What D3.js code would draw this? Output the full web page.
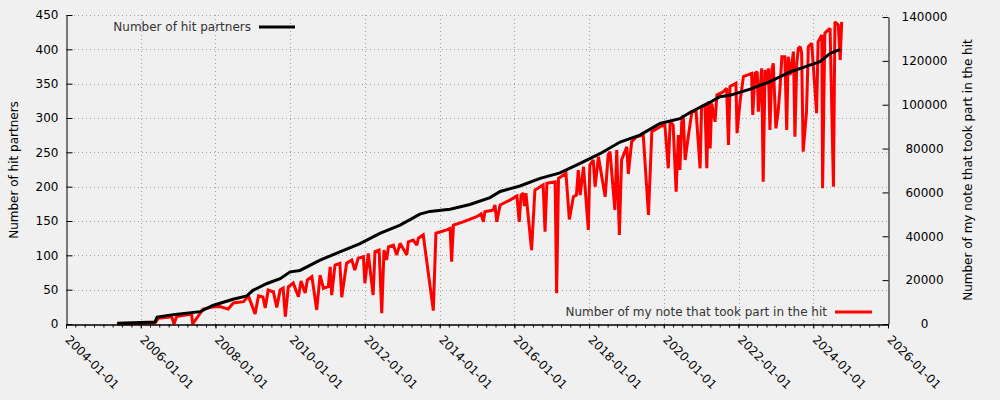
<!DOCTYPE html>
<html><head><meta charset="utf-8">
<script src="https://cdn.jsdelivr.net/npm/d3@7"></script>
<style>
html,body{margin:0;padding:0;background:#f0f0f0;}
svg{display:block;font-family:"DejaVu Sans",sans-serif;}
</style></head><body>
<svg id="chart" width="1000" height="400"></svg>
<script>
// ---- data (decimal years) ----
const partnersDates = [2005.37,2006.38,2006.44,2006.92,2007.59,2007.93,2008.47,2008.84,2009.0,2009.38,2009.73,2010.0,2010.26,2010.80,2011.33,2011.87,2012.40,2012.94,2013.47,2013.74,2014.28,2014.81,2015.35,2015.62,2016.15,2016.69,2017.22,2017.76,2018.29,2018.83,2019.36,2019.90,2020.43,2020.70,2021.24,2021.50,2021.77,2022.31,2022.84,2023.38,2023.91,2024.18,2024.45,2024.72];
const partnersValues = [1,3,10,14,18,27,36,41,49,59,66,76,78,93,105,117,132,144,160,164,167,174,184,193,201,212,220,234,248,265,275,292,299,308,323,331,333,342,353,367,377,382,394,400];

const notesDates = [2005.36,2006.38,2006.47,2006.83,2006.89,2006.96,2007.36,2007.39,2007.67,2007.94,2008.12,2008.34,2008.48,2008.75,2008.88,2009.06,2009.15,2009.27,2009.33,2009.41,2009.55,2009.64,2009.73,2009.81,2009.87,2009.95,2010.08,2010.22,2010.29,2010.40,2010.46,2010.58,2010.71,2010.80,2010.89,2011.02,2011.07,2011.11,2011.20,2011.33,2011.38,2011.51,2011.65,2011.73,2011.82,2011.96,2012.00,2012.09,2012.22,2012.27,2012.38,2012.45,2012.51,2012.58,2012.63,2012.76,2012.85,2012.94,2013.12,2013.16,2013.29,2013.39,2013.43,2013.56,2013.83,2013.90,2014.19,2014.28,2014.32,2014.37,2014.63,2014.99,2015.11,2015.17,2015.21,2015.44,2015.48,2015.53,2015.62,2015.88,2016.07,2016.13,2016.18,2016.24,2016.27,2016.31,2016.46,2016.55,2016.77,2016.82,2016.87,2017.09,2017.13,2017.18,2017.38,2017.47,2017.58,2017.66,2017.71,2017.76,2017.85,2017.98,2018.02,2018.11,2018.16,2018.25,2018.43,2018.51,2018.56,2018.69,2018.74,2018.81,2018.87,2019.01,2019.05,2019.14,2019.27,2019.45,2019.59,2019.68,2019.94,2020.03,2020.12,2020.17,2020.25,2020.33,2020.39,2020.43,2020.48,2020.52,2020.57,2020.66,2020.75,2020.86,2020.97,2021.01,2021.10,2021.15,2021.19,2021.24,2021.28,2021.37,2021.42,2021.59,2021.68,2021.73,2021.77,2021.93,2021.96,2022.04,2022.13,2022.35,2022.38,2022.44,2022.50,2022.53,2022.62,2022.66,2022.71,2022.77,2022.80,2022.84,2022.89,2022.93,2023.00,2023.06,2023.11,2023.16,2023.24,2023.29,2023.33,2023.38,2023.47,2023.51,2023.56,2023.60,2023.65,2023.69,2023.73,2023.82,2023.87,2023.96,2024.09,2024.13,2024.23,2024.25,2024.31,2024.40,2024.45,2024.54,2024.58,2024.67,2024.72,2024.76];
const notesValues = [0,500,2600,3300,0,3400,4600,0,6800,7800,8000,6800,9600,10200,12800,4600,12800,12300,7300,15500,14600,7500,15500,16400,3400,17000,18700,12400,19600,14100,20100,21600,6400,22300,16300,17000,26100,13200,26900,27700,12200,27700,29200,24600,30000,30700,18600,32200,13200,33000,33700,4900,33700,29200,35200,36000,31500,36800,31500,37500,38300,36000,39100,40600,6100,41400,42900,43600,28400,45100,46600,48900,50200,46600,51200,52000,54300,46600,54300,56500,58400,46600,58800,59600,53800,59700,33700,61100,63400,42100,64200,64900,14000,66400,68700,47700,58000,58800,70200,58800,71700,42900,72500,74800,62600,76300,58000,77100,78600,52000,79300,40600,74800,80800,68400,83100,85400,86200,49700,87700,90300,90700,71000,92200,90700,60300,86200,70200,92200,95300,74800,86200,96800,97600,71000,99100,99900,71000,101400,80100,100600,92200,104400,105900,107500,81600,108200,109800,87000,101400,112800,114300,95300,114300,115000,96800,116600,64900,115800,109000,116600,88500,115800,118900,89200,96800,107600,121900,121900,88500,121900,113500,124200,85400,118900,125700,126500,123400,78600,96800,126500,128000,96100,128700,131800,61900,132600,134100,134800,62600,137800,136300,120400,137800];

const xDomain = ["2004-01-01","2026-01-01"];
const leftTicks = [0,50,100,150,200,250,300,350,400,450];
const rightTicks = [0,20000,40000,60000,80000,100000,120000,140000];
const leftTitle = "Number of hit partners";
const rightTitle = "Number of my note that took part in the hit";
const legend1 = "Number of hit partners";
const legend2 = "Number of my note that took part in the hit";

// ---- helpers ----
function dy(y){const yr=Math.floor(y);const s=Date.UTC(yr,0,1),e=Date.UTC(yr+1,0,1);return new Date(s+(y-yr)*(e-s));}

const svg = d3.select("#chart");
const L=66,R=888,T=15,B=324;

const x = d3.scaleUtc().domain(xDomain.map(d=>new Date(d+"T00:00:00Z"))).range([L,R]);
const yL = d3.scaleLinear().domain([0,450]).range([B,T]);
const yR = d3.scaleLinear().domain([0,140000]).range([B,17]);

// grid
const grid = svg.append("g").attr("stroke","#a0a0a0").attr("stroke-width",1).attr("stroke-dasharray","1,3");
leftTicks.forEach(v=>{ if(v===0) return;
  grid.append("line").attr("x1",L).attr("x2",R).attr("y1",Math.round(yL(v))+0.5).attr("y2",Math.round(yL(v))+0.5);});
const xTicks = x.ticks(d3.utcYear.every(2));
xTicks.forEach(d=>{ const px=Math.round(x(d))+0.5; if(px<L+2||px>R-2) return;
  grid.append("line").attr("x1",px).attr("x2",px).attr("y1",T).attr("y2",B);});

// lines
const black = partnersDates.map((d,i)=>[dy(d),partnersValues[i]]);
const red = notesDates.map((d,i)=>[dy(d),notesValues[i]]);
svg.append("path").datum(red).attr("fill","none").attr("stroke","#ff0000").attr("stroke-width",3).attr("stroke-linejoin","miter").attr("stroke-miterlimit",2)
  .attr("d",d3.line().x(d=>x(d[0])).y(d=>yR(d[1])));
svg.append("path").datum(black).attr("fill","none").attr("stroke","#000").attr("stroke-width",3)
  .attr("d",d3.line().x(d=>x(d[0])).y(d=>yL(d[1])));

// axes
const fs = "12px";
const gl = svg.append("g").attr("transform",`translate(${L+0.5},0)`)
  .call(d3.axisLeft(yL).tickValues(leftTicks).tickSizeInner(-6).tickSizeOuter(0).tickPadding(8));
const gr = svg.append("g").attr("transform",`translate(${R+0.5},0)`)
  .call(d3.axisRight(yR).tickValues(rightTicks).tickFormat(d3.format("d")).tickSizeInner(-6).tickSizeOuter(0).tickPadding(36));
gr.selectAll("text").attr("text-anchor","middle");
const gminor = svg.append("g").attr("transform",`translate(0,${B+0.5})`)
  .call(d3.axisBottom(x).ticks(d3.utcMonth.every(3)).tickSizeInner(3).tickSizeOuter(0).tickFormat(""));
const gb = svg.append("g").attr("transform",`translate(0,${B+0.5})`)
  .call(d3.axisBottom(x).ticks(d3.utcYear.every(2)).tickSizeInner(4).tickSizeOuter(0).tickFormat(d3.utcFormat("%Y-%m-%d")));
gb.selectAll("text").attr("x",0).attr("y",0).attr("dy","0").attr("text-anchor","start")
  .attr("transform","translate(-2,16) rotate(45)");
[gl,gr,gminor,gb].forEach(g=>{
  g.selectAll("text").attr("font-size",fs).attr("font-family","DejaVu Sans").attr("fill","#000");
  g.selectAll(".domain").attr("stroke","#000");
  g.selectAll(".tick line").attr("stroke","#000");
});

// titles
svg.append("text").attr("transform","translate(18,170) rotate(-90)").attr("text-anchor","middle")
  .attr("font-size",fs).attr("fill","#000").text(leftTitle);
svg.append("text").attr("transform","translate(972,170) rotate(-90)").attr("text-anchor","middle")
  .attr("font-size",fs).attr("fill","#000").text(rightTitle);

// legends
svg.append("text").attr("x",251).attr("y",27).attr("dy","0.35em").attr("text-anchor","end")
  .attr("font-size",fs).attr("fill","#333").text(legend1);
svg.append("line").attr("x1",259).attr("x2",295).attr("y1",27).attr("y2",27).attr("stroke","#000").attr("stroke-width",3);
svg.append("text").attr("x",827).attr("y",312).attr("dy","0.35em").attr("text-anchor","end")
  .attr("font-size",fs).attr("fill","#333").text(legend2);
svg.append("line").attr("x1",835).attr("x2",872).attr("y1",312).attr("y2",312).attr("stroke","#ff0000").attr("stroke-width",3);
</script></body></html>
